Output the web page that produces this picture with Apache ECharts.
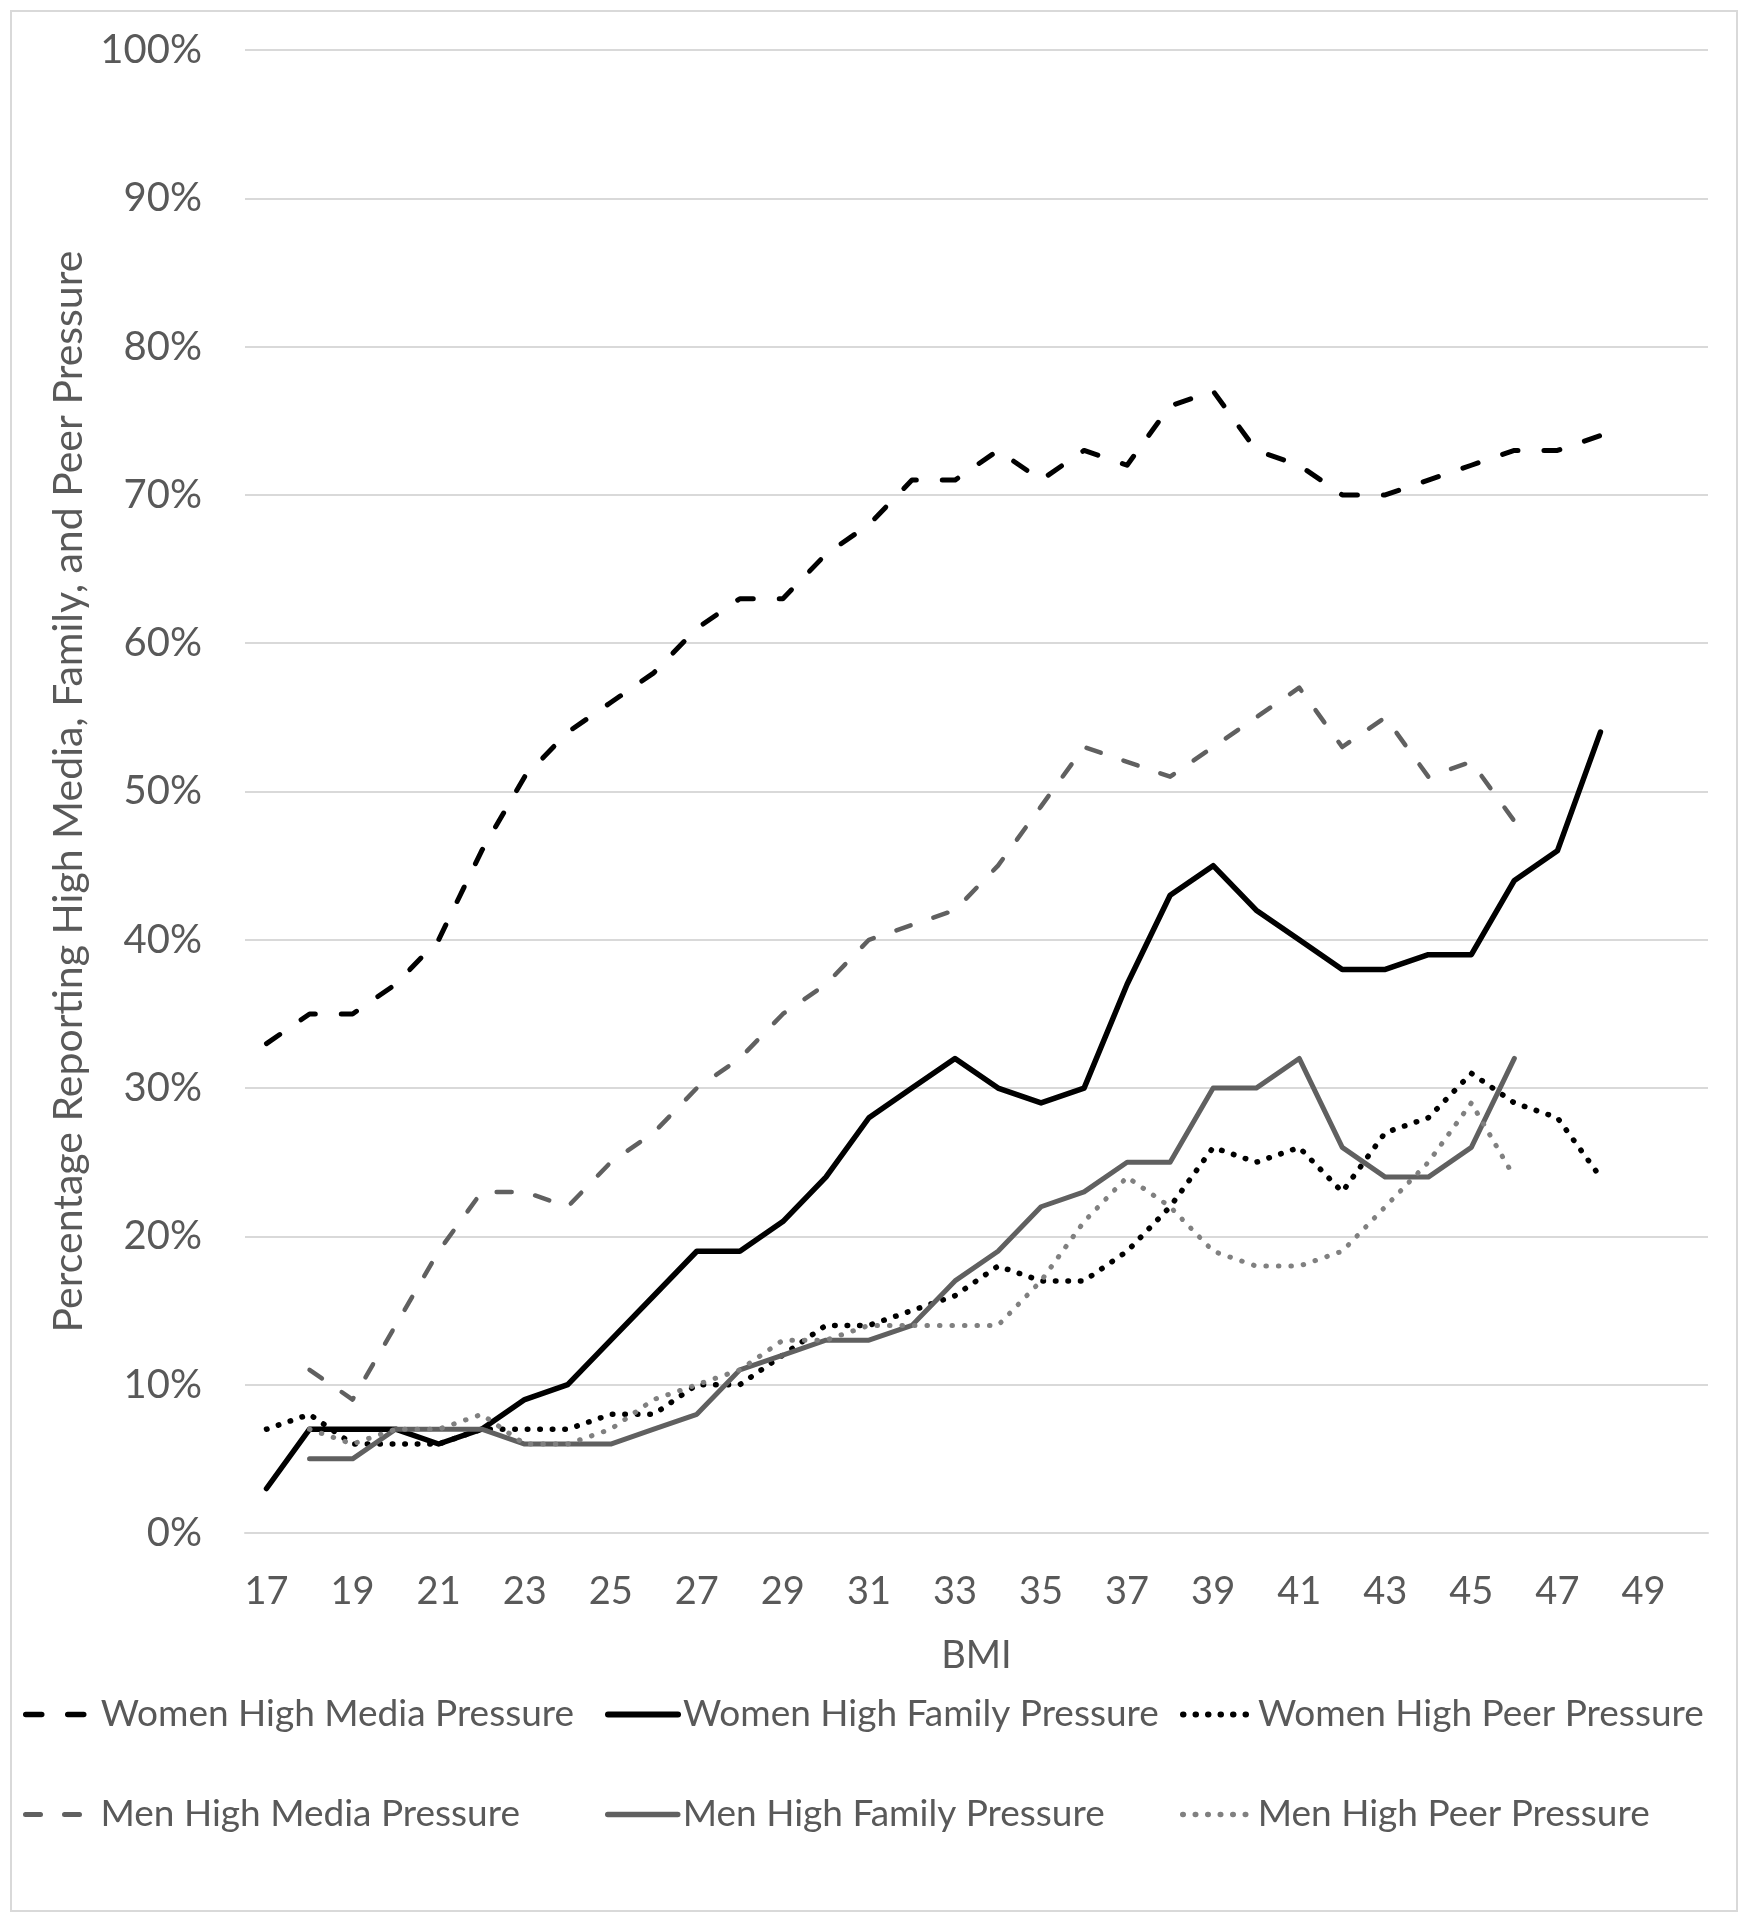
<!DOCTYPE html>
<html>
<head>
    <meta charset="utf-8">
    <title>BMI pressure</title>
    <script src="https://cdn.jsdelivr.net/npm/echarts@6/dist/echarts.min.js"></script>
    <style>
        html, body { margin: 0; padding: 0; background: #fff; }
        #main { width: 1747px; height: 1920px; }
    </style>
</head>
<body>
<div id="main"></div>
<script type="text/javascript">
// BMI categories 17..50 (Excel axis leaves room for 49 and 50)
var bmi = [];
for (var b = 17; b <= 50; b++) bmi.push(String(b));

var yTicks = [0, 10, 20, 30, 40, 50, 60, 70, 80, 90, 100];

// percentages, starting at BMI 17
var womenMedia  = [33, 35, 35, 37, 40, 46, 51, 54, 56, 58, 61, 63, 63, 66, 68, 71, 71, 73, 71, 73, 72, 76, 77, 73, 72, 70, 70, 71, 72, 73, 73, 74];
var womenFamily = [3, 7, 7, 7, 6, 7, 9, 10, 13, 16, 19, 19, 21, 24, 28, 30, 32, 30, 29, 30, 37, 43, 45, 42, 40, 38, 38, 39, 39, 44, 46, 54];
var womenPeer   = [7, 8, 6, 6, 6, 7, 7, 7, 8, 8, 10, 10, 12, 14, 14, 15, 16, 18, 17, 17, 19, 22, 26, 25, 26, 23, 27, 28, 31, 29, 28, 24];
var menMedia    = [null, 11, 9, 14, 19, 23, 23, 22, 25, 27, 30, 32, 35, 37, 40, 41, 42, 45, 49, 53, 52, 51, 53, 55, 57, 53, 55, 51, 52, 48];
var menFamily   = [null, 5, 5, 7, 7, 7, 6, 6, 6, 7, 8, 11, 12, 13, 13, 14, 17, 19, 22, 23, 25, 25, 30, 30, 32, 26, 24, 24, 26, 32];
var menPeer     = [null, 7, 6, 7, 7, 8, 6, 6, 7, 9, 10, 11, 13, 13, 14, 14, 14, 14, 17, 21, 24, 22, 19, 18, 18, 19, 22, 25, 29, 24];

var names = [
    'Women High Media Pressure', 'Women High Family Pressure', 'Women High Peer Pressure',
    'Men High Media Pressure', 'Men High Family Pressure', 'Men High Peer Pressure'
];

var txt = '#595959';
var font = 'Lato';

// line look per series: colour, width, dash
var styles = [
    { color: '#000000', width: 5,   type: [16, 26] },
    { color: '#000000', width: 5.5, type: 'solid' },
    { color: '#000000', width: 5.5, type: [0.5, 12] },
    { color: '#606060', width: 4.5, type: [15, 24] },
    { color: '#606060', width: 5,   type: 'solid' },
    { color: '#808080', width: 5,   type: [0.5, 12] }
];

function line(i, data) {
    var s = styles[i];
    return {
        name: names[i],
        type: 'line',
        data: data,
        symbol: 'none',
        connectNulls: false,
        lineStyle: { color: s.color, width: s.width, type: s.type, cap: 'round', join: 'round' },
        itemStyle: { color: s.color }
    };
}

function legendAt(i, left, top) {
    var s = styles[i];
    return {
        data: [names[i]],
        left: left,
        top: top,
        itemWidth: 70,
        itemHeight: 12,
        itemStyle: { opacity: 0 },
        lineStyle: { color: s.color, width: s.width + 0.5, type: s.type, cap: 'round' },
        textStyle: { color: txt, fontSize: 37, fontFamily: font },
        selectedMode: false
    };
}

var chart = echarts.init(document.getElementById('main'));
var option = {
    backgroundColor: '#fff',
    animation: false,
    textStyle: { fontFamily: font },
    graphic: [{
        type: 'rect',
        shape: { x: 11, y: 11, width: 1726, height: 1900 },
        style: { fill: 'none', stroke: '#d9d9d9', lineWidth: 2 },
        silent: true
    }],
    grid: { left: 245, right: 39, top: 50, bottom: 387, containLabel: false },
    xAxis: {
        type: 'category',
        data: bmi,
        boundaryGap: true,
        name: 'BMI',
        nameLocation: 'middle',
        nameGap: 104,
        nameTextStyle: { color: txt, fontSize: 38, fontFamily: font },
        axisLine: { lineStyle: { color: '#d9d9d9', width: 2 } },
        axisTick: { show: false },
        axisLabel: { interval: 1, color: txt, fontSize: 38, fontFamily: font, margin: 40 }
    },
    yAxis: {
        type: 'value',
        min: yTicks[0],
        max: yTicks[yTicks.length - 1],
        interval: 10,
        name: 'Percentage Reporting High Media, Family, and Peer Pressure',
        nameLocation: 'middle',
        nameGap: 155,
        nameTextStyle: { color: txt, fontSize: 41, fontFamily: font },
        axisLine: { show: false },
        axisTick: { show: false },
        axisLabel: { color: txt, fontSize: 40, fontFamily: font, margin: 43, formatter: '{value}%' },
        splitLine: { lineStyle: { color: '#d9d9d9', width: 2 } }
    },
    legend: [
        legendAt(0, 18, 1691),
        legendAt(1, 600, 1691),
        legendAt(2, 1175, 1691),
        legendAt(3, 18, 1791),
        legendAt(4, 600, 1791),
        legendAt(5, 1175, 1791)
    ],
    series: [
        line(0, womenMedia),
        line(1, womenFamily),
        line(2, womenPeer),
        line(3, menMedia),
        line(4, menFamily),
        line(5, menPeer)
    ]
};
chart.setOption(option);
</script>
</body>
</html>
